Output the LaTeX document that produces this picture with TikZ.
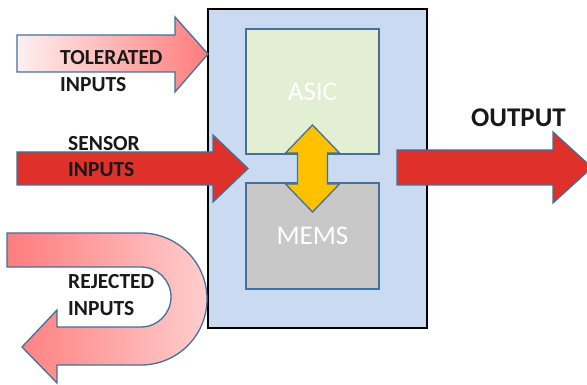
\documentclass[tikz,border=0pt]{standalone}
\usepackage{fontspec}
\setmainfont{Carlito}
\usetikzlibrary{calc}
\definecolor{chipblue}{HTML}{C9DAF1}
\definecolor{edgeblue}{HTML}{41719C}
\definecolor{asicgreen}{HTML}{E2EFD3}
\definecolor{memsgray}{HTML}{C8C8C8}
\definecolor{sensred}{HTML}{E0302A}
\definecolor{swapyellow}{HTML}{FFC000}
\definecolor{pinkdark}{HTML}{FF7C7C}
\definecolor{pinklight}{HTML}{FFF0F0}

\begin{document}
\begin{tikzpicture}[x=1pt,y=-1pt,
 blk/.style={draw=edgeblue,line width=1.5pt,minimum width=133pt,inner sep=0pt,text=white,font=\fontsize{27}{27}\selectfont},
 lbl/.style={anchor=base west,inner sep=0pt,font=\fontsize{21.5}{21.5}\selectfont\bfseries,text=black!90},
 arr/.style={draw=edgeblue,line width=1.3pt,line join=miter}]
 \useasboundingbox (0,0) rectangle (587,385);
 \node[draw=black,line width=2.5pt,fill=chipblue,minimum width=219pt,minimum height=319pt] (chip) at (317.5,168.5) {}; %外枠
 \node[blk,fill=asicgreen,minimum height=125pt] (asic) at (312.5,91.5) {ASIC};
 \node[blk,fill=memsgray,minimum height=106pt] (mems) at (312.5,236) {MEMS};
 \coordinate (mid) at ($(asic.south)!0.5!(mems.north)$);
 \draw[arr,fill=swapyellow] (mid) ++(0,-43.5) -- ++(27,28) -- ++(-12,0) -- ++(0,31) -- ++(12,0) -- ++(-27,28)
   -- ++(-27,-28) -- ++(12,0) -- ++(0,-31) -- ++(-12,0) -- cycle; %双方向
 \shadedraw[arr,left color=pinklight,right color=pinkdark] (17,35) -- (175,35) -- (175,17) -- (208,54)
   -- (175,92) -- (175,72) -- (17,72) -- cycle; %tolerated
 \draw[arr,fill=sensred] (17,152) -- (213,152) -- (213,135) -- (248,168.5) -- (213,202) -- (213,185) -- (17,185) -- cycle; %sensor
 \shadedraw[arr,left color=pinkdark,right color=pinklight!70!pinkdark] (7,233) -- (141,233) arc(-90:90:66) -- (57,365) -- (57,383)
   -- (22,347) -- (57,310) -- (57,327) -- (141,327) arc(90:-90:30) -- (7,267) -- cycle; %rejected
 \draw[arr,fill=sensred] (397,150) -- (553,150) -- (553,132) -- (592,167.5) -- (553,203) -- (553,185) -- (397,185) -- cycle; %output
 \node[lbl] (tolA) at (60,65) {TOLERATED};
 \node[lbl] (tolB) at (60,92) {INPUTS};
 \node[lbl] (senA) at (68,151) {SENSOR};
 \node[lbl] (senB) at (68,177) {INPUTS};
 \node[lbl] (rejA) at (68,288) {REJECTED};
 \node[lbl] (rejB) at (68,315) {INPUTS};
 \node[lbl,font=\fontsize{27}{27}\selectfont\bfseries] (out) at (471,127) {OUTPUT};
\end{tikzpicture}
\end{document}
